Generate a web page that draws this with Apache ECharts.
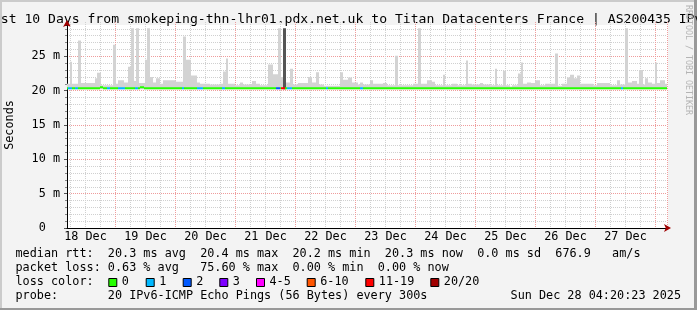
<!DOCTYPE html>
<html><head><meta charset="utf-8">
<script src="https://cdn.jsdelivr.net/npm/echarts@6/dist/echarts.min.js"></script>
<style>html,body{margin:0;padding:0;background:#f3f3f3}#c{width:697px;height:310px}</style>
</head><body><div id="c"></div>
<script>
// ---------------- data ----------------
const titleText = 'Last 10 Days from smokeping-thn-lhr01.pdx.net.uk to Titan Datacenters France | AS200435 IPv6';
const dayLabels = ['18 Dec','19 Dec','20 Dec','21 Dec','22 Dec','23 Dec','24 Dec','25 Dec','26 Dec','27 Dec'];
const yTickValues = [0, 5, 10, 15, 20, 25];
const yTickLabels = ['0  ', '5 m', '10 m', '15 m', '20 m', '25 m'];
const binCount = 600;          // 10 days in 24-minute bins
const firstMidnightBin = 48;   // bin where 19 Dec 00:00 starts
const smokeFloor = 20.2;       // ms, min rtt (bottom of smoke)
// smoke (max rtt) per run of bins: [fromBin, toBin, topMs]
const smokeRuns = [
 [0,3,21.0],[3,5,24.2],[5,11,21.0],[11,14,27.3],[14,28,21.1],[28,30,21.8],[30,34,22.6],[34,46,20.8],
 [46,49,26.7],[49,51,21.0],[51,57,21.5],[57,61,21.2],[61,64,23.5],[64,67,29.1],[67,69,21.4],[69,72,29.1],
 [72,78,21.1],[78,80,24.5],[80,83,29.1],[83,86,22.0],[86,89,21.2],[89,93,21.8],[93,96,21.0],[96,109,21.5],
 [109,116,21.3],[116,119,27.9],[119,124,24.5],[124,130,22.2],[130,133,21.2],[133,143,21.0],[143,153,20.9],
 [153,156,21.0],[156,159,22.8],[159,161,24.7],[161,168,21.0],[168,173,20.8],[173,176,21.2],[176,185,20.9],
 [185,189,21.4],[189,193,21.0],[193,201,20.8],[201,206,23.8],[206,211,22.4],[211,214,29.1],[214,216,22.0],
 [216,219,21.0],[219,223,21.2],[223,226,23.2],[226,231,20.9],[231,241,21.1],[241,245,22.0],[245,249,21.2],
 [249,252,22.7],[252,257,20.9],[257,273,20.7],[273,276,22.7],[276,281,21.6],[281,285,21.9],[285,291,21.2],
 [291,293,20.9],[293,296,21.2],[296,303,20.9],[303,306,21.5],[306,316,21.0],[316,320,21.1],[320,328,20.8],
 [328,331,25.1],[331,346,20.8],[346,351,21.0],[351,354,29.1],[354,360,21.0],[360,365,21.5],[365,368,21.3],
 [368,376,20.8],[376,378,22.3],[378,385,20.8],[385,390,21.0],[390,399,20.8],[399,401,24.4],[401,405,21.0],
 [405,413,20.9],[413,416,21.1],[416,423,20.9],[423,428,20.8],[428,430,23.2],[430,436,20.8],[436,439,22.9],
 [439,443,20.8],[443,445,20.6],[445,451,20.8],[451,454,22.5],[454,456,24.1],[456,460,21.0],[460,464,21.2],
 [464,468,21.1],[468,473,21.5],[473,478,20.8],[478,488,21.0],[488,491,25.4],[491,495,20.7],[495,500,21.0],
 [500,503,21.9],[503,507,22.3],[507,510,21.8],[510,513,22.2],[513,526,21.0],[526,530,20.8],[530,543,21.1],
 [543,550,20.8],[550,553,21.5],[553,558,20.9],[558,561,29.1],[561,565,21.2],[565,570,21.4],[570,572,21.0],
 [572,576,23.0],[576,578,20.9],[578,581,21.8],[581,585,21.2],[585,588,21.0],[588,590,24.1],[590,593,21.1],
 [593,598,21.5],[598,600,21.0]
];
// dense (high-loss) smoke
const heavySmokeRuns = [[216,219,29.1]];
const medianDefault = 20.3;
const medianRuns = [[33,36,20.45],[73,77,20.45]];
// packet loss class per run of bins: [fromBin, toBin, lossClassIndex]
const lossRuns = [
 [1,5,1],[8,11,1],[40,43,1],[51,58,1],[68,71,1],[115,117,1],[130,136,1],[155,158,1],
 [209,213,2],[214,218,6],[220,225,1],[259,261,1],[293,296,1],[554,556,1]
];
const lossLabels = ['0','1','2','3','4-5','6-10','11-19','20/20'];
const lossColors = ['#26ff00','#00b8ff','#0059ff','#7e00ff','#ff00ff','#ff5500','#ff0000','#a10000'];
const legendRtt  = 'median rtt:  20.3 ms avg  20.4 ms max  20.2 ms min  20.3 ms now  0.0 ms sd  676.9   am/s';
const legendLoss = 'packet loss: 0.63 % avg   75.60 % max  0.00 % min  0.00 % now';
const legendLossTitle = 'loss color:';
const legendProbe = 'probe:       20 IPv6-ICMP Echo Pings (56 Bytes) every 300s';
const stampText = 'Sun Dec 28 04:20:23 2025';
const yAxisName = 'Seconds';
const watermark = 'RRDTOOL / TOBI OETIKER';

// ---------------- build ----------------
const bins = [];
for (let i = 0; i < binCount; i++) bins.push(String(i));
const smokeTop = new Array(binCount).fill(null);
smokeRuns.forEach(([a, b, v]) => { for (let i = a; i < b; i++) smokeTop[i] = v; });
const heavyTop = new Array(binCount).fill(null);
heavySmokeRuns.forEach(([a, b, v]) => { for (let i = a; i < b; i++) heavyTop[i] = v; });
const median = new Array(binCount).fill(medianDefault);
medianRuns.forEach(([a, b, v]) => { for (let i = a; i < b; i++) median[i] = v; });
const loss = new Array(binCount).fill(0);
lossRuns.forEach(([a, b, v]) => { for (let i = a; i < b; i++) loss[i] = v; });

const MED_BELOW = 0.1, MED_BAND = 0.3;
const smokeBase = smokeTop.map(v => v == null ? '-' : smokeFloor);
const smokeHeight = smokeTop.map(v => v == null ? '-' : +(v - smokeFloor).toFixed(3));
const heavyBase = heavyTop.map(v => v == null ? '-' : smokeFloor);
const heavyHeight = heavyTop.map(v => v == null ? '-' : +(v - smokeFloor).toFixed(3));
const medBase = median.map(v => +(v - MED_BELOW).toFixed(3));
const medItems = median.map((v, i) => ({ value: MED_BAND, itemStyle: { color: lossColors[loss[i]] } }));

const FONT = '"DejaVu Sans Mono", monospace';
const mod = (a, n) => ((a % n) + n) % n;
const isMidnight = i => mod(i - firstMidnightBin, 60) === 0;
const isSixHour = i => mod(i - firstMidnightBin, 15) === 0 && !isMidnight(i);
const isNoon = i => mod(i - firstMidnightBin, 60) === 30;

const barCommon = { type: 'bar', barCategoryGap: '0%', barGap: '-100%', silent: true, animation: false, xAxisIndex: 0, yAxisIndex: 0 };

const graphics = [
  { type: 'rect', z: -10, shape: { x: 67, y: 25, width: 601, height: 203 }, style: { fill: '#ffffff' } },
  // 3D border
  { type: 'rect', shape: { x: 0, y: 0, width: 697, height: 2 }, style: { fill: '#cbcbcb' } },
  { type: 'rect', shape: { x: 0, y: 0, width: 2, height: 310 }, style: { fill: '#cbcbcb' } },
  { type: 'rect', shape: { x: 694, y: 0, width: 3, height: 310 }, style: { fill: '#999999' } },
  { type: 'rect', shape: { x: 0, y: 308, width: 697, height: 2 }, style: { fill: '#999999' } },
  { type: 'text', x: -15, y: 19.5, style: { text: titleText, font: '13.1px ' + FONT, fill: '#000', textAlign: 'left', textVerticalAlign: 'middle' } },
  { type: 'text', x: 688, y: 5, rotation: -Math.PI / 2, style: { text: watermark, font: '8.3px ' + FONT, fill: '#b4b4b4', textAlign: 'left', textVerticalAlign: 'middle' } },
  { type: 'text', x: 15.5, y: 254, style: { text: legendRtt, font: '11.8px ' + FONT, fill: '#000', textVerticalAlign: 'middle' } },
  { type: 'text', x: 15.5, y: 268.3, style: { text: legendLoss, font: '11.8px ' + FONT, fill: '#000', textVerticalAlign: 'middle' } },
  { type: 'text', x: 15.5, y: 282.3, style: { text: legendLossTitle, font: '11.8px ' + FONT, fill: '#000', textVerticalAlign: 'middle' } },
  { type: 'text', x: 15.5, y: 296, style: { text: legendProbe, font: '11.8px ' + FONT, fill: '#000', textVerticalAlign: 'middle' } },
  { type: 'text', x: 681, y: 296, style: { text: stampText, font: '11.8px ' + FONT, fill: '#000', textAlign: 'right', textVerticalAlign: 'middle' } }
];
const boxX = [108.3, 145.7, 182.7, 219.3, 256, 306.7, 365.3, 430.3];
lossLabels.forEach((lab, k) => {
  graphics.push({ type: 'rect', shape: { x: boxX[k] + 0.5, y: 278.5, width: 8, height: 8 }, style: { fill: lossColors[k], stroke: '#000', lineWidth: 1 } });
  graphics.push({ type: 'text', x: boxX[k] + 13.5, y: 282.3, style: { text: lab, font: '11.8px ' + FONT, fill: '#000', textVerticalAlign: 'middle' } });
});

const chart = echarts.init(document.getElementById('c'), null, { renderer: 'canvas' });
chart.setOption({
  backgroundColor: '#f3f3f3',
  animation: false,
  grid: { left: 67, right: 30, top: 22, bottom: 82, show: false, containLabel: false, outerBoundsMode: 'none' },
  xAxis: [
    { type: 'category', data: bins, boundaryGap: true, position: 'bottom', z: 1,
      axisLine: { show: true, lineStyle: { color: '#000', width: 1 } },
      axisTick: { show: false },
      axisLabel: { interval: (i) => isNoon(i), formatter: (v, i) => dayLabels[Math.round((i - firstMidnightBin + 30) / 60)],
                   fontFamily: FONT, fontSize: 11.8, color: '#000', margin: 3 },
      splitLine: { show: true, interval: (i) => isSixHour(i), lineStyle: { color: '#d0d0d0', width: 1, type: [1, 1] } } },
    { type: 'category', data: bins, boundaryGap: true, position: 'bottom', offset: 0, z: 1,
      axisLine: { show: true, symbol: ['none', 'arrow'], symbolSize: [6, 7], symbolOffset: [0, 4], lineStyle: { color: '#a00000', width: 0 } },
      axisTick: { show: false }, axisLabel: { show: false },
      splitLine: { show: true, interval: (i) => isMidnight(i), lineStyle: { color: '#ef9c9c', width: 1, type: [1, 1] } } }
  ],
  yAxis: [
    { type: 'value', min: 0, max: 30, interval: 5, position: 'left',
      name: yAxisName, nameLocation: 'middle', nameGap: 51, nameRotate: 90,
      nameTextStyle: { fontFamily: FONT, fontSize: 11.8, color: '#000' },
      axisLine: { show: true, lineStyle: { color: '#000', width: 1 } },
      axisTick: { show: true, length: 3, customValues: yTickValues, lineStyle: { color: '#555' } },
      minorTick: { show: true, splitNumber: 5, length: 2, lineStyle: { color: '#888' } },
      axisLabel: { customValues: yTickValues, formatter: (v) => yTickLabels[yTickValues.indexOf(v)] || '',
                   fontFamily: FONT, fontSize: 11.8, color: '#000', margin: 7 },
      splitLine: { show: true, lineStyle: { color: '#ef9c9c', width: 1, type: [1, 1] } },
      minorSplitLine: { show: true, lineStyle: { color: '#d0d0d0', width: 1, type: [1, 1] } } },
    { type: 'value', min: 0, max: 30, interval: 5, position: 'left', offset: 0,
      axisLine: { show: true, symbol: ['none', 'arrow'], symbolSize: [6, 7], symbolOffset: [0, 2], lineStyle: { color: '#a00000', width: 0 } },
      axisTick: { show: false }, axisLabel: { show: false }, splitLine: { show: false } }
  ],
  series: [
    Object.assign({}, barCommon, { stack: 'smoke', data: smokeBase, itemStyle: { color: 'transparent' } }),
    Object.assign({}, barCommon, { stack: 'smoke', data: smokeHeight, itemStyle: { color: '#d3d3d3' } }),
    Object.assign({}, barCommon, { stack: 'heavy', data: heavyBase, itemStyle: { color: 'transparent' } }),
    Object.assign({}, barCommon, { stack: 'heavy', data: heavyHeight, itemStyle: { color: '#555555' } }),
    Object.assign({}, barCommon, { stack: 'median', data: medBase, itemStyle: { color: 'transparent' } }),
    Object.assign({}, barCommon, { stack: 'median', data: medItems })
  ],
  graphic: graphics
});
</script></body></html>
